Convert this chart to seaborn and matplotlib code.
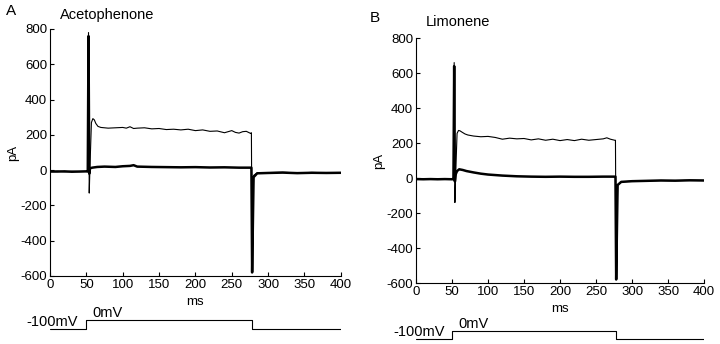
import seaborn as sns
import matplotlib.pyplot as plt
import pandas as pd

sns.set_style('ticks')
plt.rcParams['font.family'] = ['Liberation Sans', 'DejaVu Sans']
plt.rcParams['axes.unicode_minus'] = False
plt.rcParams['text.color'] = 'black'
plt.rcParams['axes.labelcolor'] = 'black'
plt.rcParams['axes.edgecolor'] = 'black'
plt.rcParams['xtick.color'] = 'black'
plt.rcParams['ytick.color'] = 'black'

# ---- data (time in ms, current in pA) ----
# panel A: acetophenone
a_thin_t = [0, 10, 20, 30, 40, 50, 52, 53, 54, 55, 57, 59, 61, 63, 66, 70, 75, 80, 90, 100,
            105, 110, 115, 120, 130, 140, 150, 160, 170, 180, 190, 200, 210, 220, 230, 240,
            245, 250, 255, 260, 265, 270, 276, 277, 278, 280, 285, 300, 320, 340, 360, 380, 400]
a_thin_v = [-8, -6, -9, -7, -8, -7, -8, 780, -130, 20, 270, 292, 285, 265, 248, 242, 240, 238, 240, 242,
            238, 246, 236, 238, 240, 234, 236, 230, 232, 228, 232, 224, 228, 220, 222, 212,
            218, 224, 214, 210, 218, 220, 208, 212, -580, -30, -15, -14, -12, -16, -13, -15, -15]
a_thick_t = [0, 10, 20, 30, 40, 50, 52, 53, 54, 55, 58, 65, 75, 90, 100, 110, 115, 120, 140,
             160, 180, 200, 220, 240, 260, 276, 277, 278, 280, 285, 300, 320, 340, 360, 380, 400]
a_thick_v = [-8, -8, -7, -9, -8, -7, -8, 760, -20, 10, 14, 18, 20, 18, 22, 24, 28, 20, 18,
             17, 16, 17, 15, 16, 14, 14, 14, -580, -40, -18, -16, -14, -17, -15, -16, -15]

# panel B: limonene
b_thin_t = [0, 10, 20, 30, 40, 50, 52, 53, 54, 55, 57, 59, 61, 64, 68, 72, 80, 90, 100, 110,
            120, 130, 140, 150, 160, 170, 180, 190, 200, 210, 220, 230, 240, 250, 260, 265,
            270, 276, 277, 278, 280, 285, 300, 320, 340, 360, 380, 400]
b_thin_v = [-6, -7, -5, -7, -6, -7, -6, 660, -140, 10, 255, 272, 270, 262, 252, 246, 240, 236, 238, 232,
            222, 228, 224, 226, 218, 224, 216, 222, 214, 220, 214, 222, 216, 220, 224, 230,
            222, 216, 216, -580, -40, -22, -18, -16, -14, -15, -13, -14]
b_thick_t = [0, 10, 20, 30, 40, 50, 52, 53, 54, 55, 57, 60, 65, 70, 80, 90, 100, 120, 140,
             160, 180, 200, 220, 240, 260, 276, 277, 278, 280, 285, 300, 320, 340, 360, 380, 400]
b_thick_v = [-6, -7, -6, -7, -6, -7, -6, 640, -20, 20, 40, 50, 46, 40, 32, 25, 20, 14, 10,
             8, 7, 8, 7, 7, 8, 8, 8, -580, -40, -22, -18, -16, -14, -15, -13, -14]

# voltage protocol (mV)
step_t = [0, 50, 50, 278, 278, 400]
step_v = [-100, -100, 0, 0, -100, -100]

x_ticks = [0, 50, 100, 150, 200, 250, 300, 350, 400]
y_ticks = [-600, -400, -200, 0, 200, 400, 600, 800]
y_labels = ['-600', '-400', '-200', '0', '200', '400', '600', '800']

panels = [
    ('A', 'Acetophenone', a_thin_t, a_thin_v, a_thick_t, a_thick_v),
    ('B', 'Limonene', b_thin_t, b_thin_v, b_thick_t, b_thick_v),
]
main_pos = [[0.0694, 0.1977, 0.404, 0.718], [0.5778, 0.1773, 0.400, 0.712]]
step_pos = [[0.0694, 0.0200, 0.404, 0.0814], [0.5778, 0.0000, 0.400, 0.0814]]
step_ylim = [(-189, 122), (-162, 188)]
letter_xy = [(0.008, 0.968), (0.513, 0.948)]
title_xy = [(0.083, 0.956), (0.591, 0.936)]

fig = plt.figure(figsize=(7.2, 3.44), dpi=100)

for i, (letter, title, tt, tv, kt, kv) in enumerate(panels):
    ax = fig.add_axes(main_pos[i])
    thin = pd.DataFrame({'t': tt, 'pA': tv})
    thick = pd.DataFrame({'t': kt, 'pA': kv})
    sns.lineplot(data=thin, x='t', y='pA', ax=ax, color='black', linewidth=0.8,
                 estimator=None, sort=False)
    sns.lineplot(data=thick, x='t', y='pA', ax=ax, color='black', linewidth=1.8,
                 estimator=None, sort=False)
    ax.set_xlim(0, 400)
    ax.set_ylim(-600, 800)
    ax.set_xticks(x_ticks)
    ax.set_xticklabels([str(x) for x in x_ticks])
    ax.set_yticks(y_ticks)
    ax.set_yticklabels(y_labels)
    ax.tick_params(direction='in', length=3, width=0.8, labelsize=9.5, pad=2)
    ax.set_xlabel('ms', fontsize=9.5, labelpad=4)
    ax.set_ylabel('pA', fontsize=9.5, labelpad=1)
    for s in ['left', 'bottom']:
        ax.spines[s].set_linewidth(0.8)
    sns.despine(ax=ax)
    fig.text(*letter_xy[i], letter, fontsize=11, ha='left', va='center')
    fig.text(*title_xy[i], title, fontsize=10.5, ha='left', va='center')

    # voltage protocol below
    sx = fig.add_axes(step_pos[i])
    sns.lineplot(x=step_t, y=step_v, ax=sx, color='black', linewidth=0.8,
                 estimator=None, sort=False)
    sx.set_xlim(0, 400)
    sx.set_ylim(*step_ylim[i])
    sx.axis('off')
    sx.text(-32, -100, '-100mV', fontsize=10.5, ha='left', va='bottom', clip_on=False)
    sx.text(59, 0, '0mV', fontsize=10.5, ha='left', va='bottom', clip_on=False)

fig.savefig('out.png', dpi=100)
